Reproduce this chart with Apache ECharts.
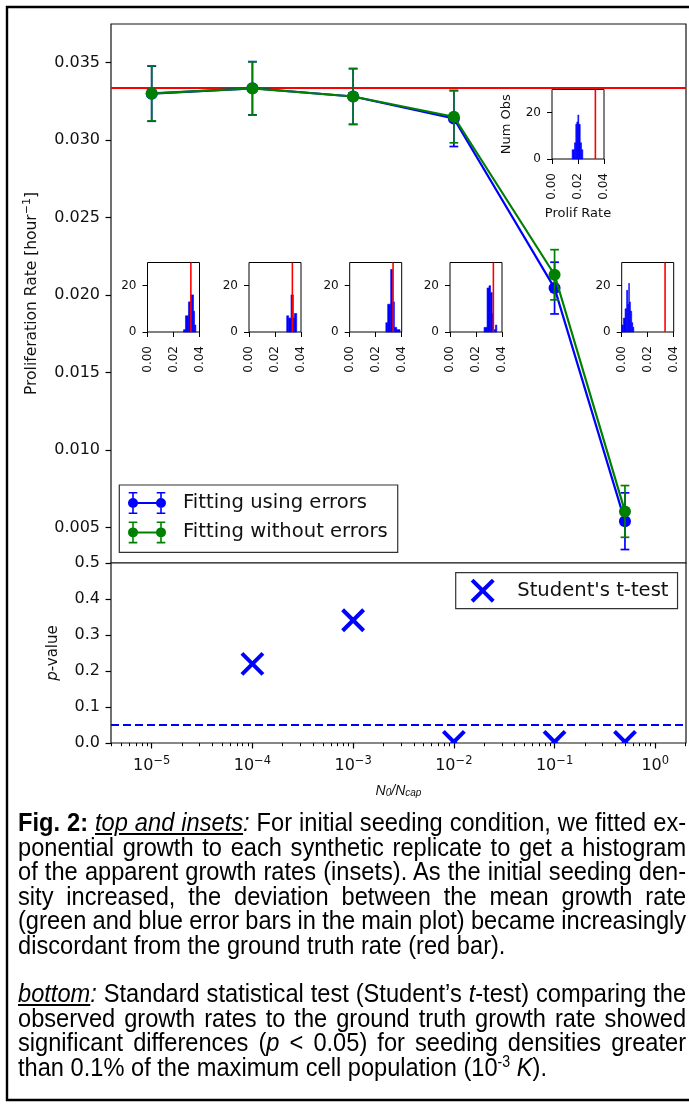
<!DOCTYPE html>
<html>
<head>
<meta charset="utf-8">
<script src="https://cdn.jsdelivr.net/npm/echarts@6/dist/echarts.min.js"></script>
<style>
html,body{margin:0;padding:0;background:#fff;}
#chart{position:absolute;left:0;top:0;width:689px;height:1105px;}
#cap{position:absolute;left:18px;top:810px;width:749px;transform:scaleX(0.892);transform-origin:0 0;font-family:'Liberation Sans',Arial,sans-serif;font-size:26.5px;line-height:24.6px;color:#000;}
#cap div{height:24.6px;white-space:nowrap;}
#cap .j{text-align:justify;text-align-last:justify;word-spacing:-4px;}
#cap .gap{height:23.5px;}
#cap sup{font-size:60%;line-height:0;vertical-align:0.55em;}
</style>
</head>
<body>
<div id="chart"></div>
<div id="cap">
<div class="j"><b>Fig. 2:</b> <i><u>top and insets</u>:</i> For initial seeding condition, we fitted ex-</div>
<div class="j">ponential growth to each synthetic replicate to get a histogram</div>
<div class="j">of the apparent growth rates (insets). As the initial seeding den-</div>
<div class="j">sity increased, the deviation between the mean growth rate</div>
<div class="j">(green and blue error bars in the main plot) became increasingly</div>
<div>discordant from the ground truth rate (red bar).</div>
<div class="gap"></div>
<div class="j"><i><u>bottom</u>:</i> Standard statistical test (Student’s <i>t</i>-test) comparing the</div>
<div class="j">observed growth rates to the ground truth growth rate showed</div>
<div class="j">significant differences (<i>p</i> &lt; 0.05) for seeding densities greater</div>
<div>than 0.1% of the maximum cell population (10<sup>-3</sup> <i>K</i>).</div>
</div>
<script>
// ---------------- data ----------------
const seedDensity = [1e-5, 1e-4, 1e-3, 1e-2, 1e-1, 0.5];
const usingErrorsMean = [0.03300, 0.03335, 0.03282, 0.03140, 0.02045, 0.00540];
const usingErrorsSd   = [0.00178, 0.00172, 0.00180, 0.00181, 0.00167, 0.00183];
const noErrorsMean    = [0.03302, 0.03334, 0.03282, 0.03151, 0.02131, 0.00603];
const noErrorsSd      = [0.00178, 0.00172, 0.00180, 0.00168, 0.00162, 0.00167];
const groundTruthRate = 0.03336;

const pDensity = [1e-4, 1e-3, 1e-2, 1e-1, 0.5];
const pValues  = [0.22, 0.341, 0.003, 0.003, 0.003];
const pThreshold = 0.05;

const xMajorTicks = [1e-5, 1e-4, 1e-3, 1e-2, 1e-1, 1];
const yMainTicks = [0.005, 0.010, 0.015, 0.020, 0.025, 0.030, 0.035];
const yPTicks = [0, 0.1, 0.2, 0.3, 0.4, 0.5];
const insetXTicks = [0, 0.02, 0.04];
const insetYTicks = [0, 20];

// inset histograms (bin edges, counts)
const hist1Edges = [0.0277, 0.0292, 0.0315, 0.0334, 0.0354, 0.0362, 0.0372];
const hist1Counts = [1, 7, 13, 16, 9, 3];
const hist2Edges = [0.0290, 0.0305, 0.0323, 0.0341, 0.0349, 0.0367];
const hist2Counts = [7, 6, 16, 6, 8];
const hist3Edges = [0.0278, 0.0292, 0.0315, 0.0329, 0.0344, 0.0362, 0.0387];
const hist3Counts = [4, 12, 27, 13, 2, 1];
const hist4Edges = [0.0262, 0.0285, 0.0300, 0.0312, 0.0325, 0.0334, 0.0343, 0.0350, 0.0360];
const hist4Counts = [2, 19, 20, 17, 8, 1, 1, 3];
const hist5Edges = [0.0155, 0.0173, 0.0183, 0.0191, 0.0199, 0.0206, 0.0217, 0.0227, 0.0237];
const hist5Counts = [4, 7, 15, 16, 19, 15, 7, 4];
const hist6Edges = [0.0000, 0.0013, 0.0026, 0.0038, 0.0046, 0.0054, 0.0059, 0.0067, 0.0077, 0.0085, 0.0093];
const hist6Counts = [3, 6, 10, 18, 12, 21, 13, 9, 4, 2];

// minor log ticks (axis decoration)
const xMinorTicks = [];
for (let k = -6; k <= 0; k++) for (let m = 2; m <= 9; m++) xMinorTicks.push(m * Math.pow(10, k));

// ---------------- layout ----------------
const X_MIN = Math.pow(10, -5.404), X_MAX = Math.pow(10, 0.305);
const FONT = 'DejaVu Sans';
const BLUE = '#0000ff', GREEN = '#008000', RED = '#ff0000';
const insetBoxes = [
  {left: 147.5, top: 262.5}, {left: 249, top: 262.5}, {left: 349.7, top: 262.5},
  {left: 450, top: 262.5}, {left: 552, top: 89.5}, {left: 621.7, top: 262.5}
];
const histEdges = [hist1Edges, hist2Edges, hist3Edges, hist4Edges, hist5Edges, hist6Edges];
const histCounts = [hist1Counts, hist2Counts, hist3Counts, hist4Counts, hist5Counts, hist6Counts];

const ERR_ICON = 'path://M4.2,1 L5.8,1 L5.8,21 L4.2,21 Z M0.7,0 L9.3,0 L9.3,1.6 L0.7,1.6 Z M0.7,20.4 L9.3,20.4 L9.3,22 L0.7,22 Z ' +
  'M32.2,1 L33.8,1 L33.8,21 L32.2,21 Z M28.7,0 L37.3,0 L37.3,1.6 L28.7,1.6 Z M28.7,20.4 L37.3,20.4 L37.3,22 L28.7,22 Z ' +
  'M5,10 L33,10 L33,12 L5,12 Z M0,11 A5,5 0 1 1 10,11 A5,5 0 1 1 0,11 Z M28,11 A5,5 0 1 1 38,11 A5,5 0 1 1 28,11 Z';
const X_ICON = 'path://M0,2.83 L2.83,0 L12,9.17 L21.17,0 L24,2.83 L14.83,12 L24,21.17 L21.17,24 L12,14.83 L2.83,24 L0,21.17 L9.17,12 Z';

function errRows(mean, sd) { return seedDensity.map((x, i) => [x, mean[i] - sd[i], mean[i] + sd[i]]); }
function errRender(color) {
  return function (params, api) {
    const x = api.value(0);
    const a = api.coord([x, api.value(1)]);
    const b = api.coord([x, api.value(2)]);
    const hw = 4.4;
    const st = {stroke: color, lineWidth: 1.7};
    return {type: 'group', children: [
      {type: 'line', shape: {x1: a[0], y1: a[1], x2: b[0], y2: b[1]}, style: st},
      {type: 'line', shape: {x1: a[0] - hw, y1: a[1], x2: a[0] + hw, y2: a[1]}, style: st},
      {type: 'line', shape: {x1: b[0] - hw, y1: b[1], x2: b[0] + hw, y2: b[1]}, style: st}
    ]};
  };
}
function histRender(params, api) {
  const p0 = api.coord([api.value(0), api.value(2)]);
  const p1 = api.coord([api.value(1), 0]);
  return {type: 'rect', shape: {x: p0[0], y: p0[1], width: p1[0] - p0[0], height: p1[1] - p0[1]},
    style: {fill: BLUE, stroke: BLUE, lineWidth: 0.6}};
}
function xMarkRender(params, api) {
  const c = api.coord([api.value(0), api.value(1)]);
  const h = 10.5;
  const st = {stroke: BLUE, lineWidth: 4};
  return {type: 'group', children: [
    {type: 'line', shape: {x1: c[0] - h, y1: c[1] - h, x2: c[0] + h, y2: c[1] + h}, style: st},
    {type: 'line', shape: {x1: c[0] - h, y1: c[1] + h, x2: c[0] + h, y2: c[1] - h}, style: st}
  ]};
}
function truthRender(params, api) {
  const a = api.coord([api.value(0), api.value(1)]);
  const r = params.coordSys;
  return {type: 'line', shape: {x1: r.x, y1: a[1], x2: r.x + r.width, y2: a[1]}, style: {stroke: RED, lineWidth: 2}};
}
function vTruthRender(params, api) {
  const a = api.coord([api.value(0), api.value(1)]);
  const r = params.coordSys;
  return {type: 'line', shape: {x1: a[0], y1: r.y, x2: a[0], y2: r.y + r.height}, style: {stroke: RED, lineWidth: 1.6}};
}
function sup10(v) {
  const e = Math.round(Math.log10(v));
  if (Math.abs(Math.log10(v) - e) > 1e-6) return '';
  return '10{s|' + (e < 0 ? '\u2212' + (-e) : e) + '}';
}

const gridStyle = {show: true, backgroundColor: '#fff', borderColor: '#111', borderWidth: 1.2, containLabel: false};
const grids = [
  Object.assign({left: 111, top: 24, width: 575, height: 539}, gridStyle),
  Object.assign({left: 111, top: 563, width: 575, height: 180}, gridStyle)
];
insetBoxes.forEach(b => grids.push(Object.assign({left: b.left, top: b.top, width: 52, height: 69.5}, gridStyle, {borderColor: '#000', borderWidth: 1})));

const tickStyle = {color: '#000', width: 1.2};
const xAxes = [
  {gridIndex: 0, type: 'log', position: 'bottom', min: X_MIN, max: X_MAX, axisLine: {show: false}, axisTick: {show: false}, axisLabel: {show: false}, splitLine: {show: false}},
  {gridIndex: 1, type: 'log', position: 'bottom', min: X_MIN, max: X_MAX, axisLine: {show: false}, splitLine: {show: false},
   axisTick: {show: true, customValues: xMajorTicks, length: 5.5, lineStyle: tickStyle},
   axisLabel: {show: true, customValues: xMajorTicks, formatter: sup10, margin: 12, fontFamily: FONT, fontSize: 16, color: '#111', lineHeight: 22,
     rich: {s: {fontFamily: FONT, fontSize: 11.5, lineHeight: 12, verticalAlign: 'top', color: '#111'}}},
   name: 'N{sub|0}/N{sub|cap}', nameLocation: 'middle', nameGap: 41,
   nameTextStyle: {fontFamily: 'Liberation Sans', fontStyle: 'italic', fontSize: 14, color: '#111',
     rich: {sub: {fontFamily: 'Liberation Sans', fontStyle: 'italic', fontSize: 10, verticalAlign: 'bottom', lineHeight: 10, color: '#111'}}}},
  {gridIndex: 1, type: 'log', position: 'bottom', min: X_MIN, max: X_MAX, axisLine: {show: false}, splitLine: {show: false}, axisLabel: {show: false},
   axisTick: {show: true, customValues: xMinorTicks, length: 3.2, lineStyle: {color: '#000', width: 1}}}
];
const yAxes = [
  {gridIndex: 0, type: 'value', min: 0.0027, max: 0.0375, axisLine: {show: false}, splitLine: {show: false},
   axisTick: {show: true, customValues: yMainTicks, length: 5.5, lineStyle: tickStyle},
   axisLabel: {customValues: yMainTicks, formatter: v => v.toFixed(3), margin: 11, fontFamily: FONT, fontSize: 16, color: '#111'},
   name: 'Proliferation Rate [hour{s|\u22121}]', nameLocation: 'middle', nameGap: 66, nameRotate: 90,
   nameTextStyle: {fontFamily: FONT, fontSize: 15.5, color: '#111', lineHeight: 22,
     rich: {s: {fontFamily: FONT, fontSize: 11, lineHeight: 12, verticalAlign: 'top', color: '#111'}}}},
  {gridIndex: 1, type: 'value', min: 0, max: 0.5, axisLine: {show: false}, splitLine: {show: false},
   axisTick: {show: true, customValues: yPTicks, length: 5.5, lineStyle: tickStyle},
   axisLabel: {customValues: yPTicks, formatter: v => v.toFixed(1), margin: 11, fontFamily: FONT, fontSize: 16, color: '#111'},
   name: '{i|p}-value', nameLocation: 'middle', nameGap: 50, nameRotate: 90,
   nameTextStyle: {fontFamily: FONT, fontSize: 15, color: '#111', rich: {i: {fontFamily: FONT, fontStyle: 'italic', fontSize: 15, color: '#111'}}}}
];
const series = [
  {type: 'custom', name: 'truth', xAxisIndex: 0, yAxisIndex: 0, z: 1, silent: true, renderItem: truthRender,
   encode: {x: 0, y: 1}, data: [[seedDensity[0], groundTruthRate]]},
  {type: 'custom', name: 'usingErrBars', xAxisIndex: 0, yAxisIndex: 0, z: 2, renderItem: errRender(BLUE),
   encode: {x: 0, y: [1, 2]}, data: errRows(usingErrorsMean, usingErrorsSd)},
  {type: 'line', name: 'Fitting using errors', xAxisIndex: 0, yAxisIndex: 0, z: 3,
   data: seedDensity.map((x, i) => [x, usingErrorsMean[i]]), symbol: 'circle', symbolSize: 12,
   itemStyle: {color: BLUE, borderWidth: 0}, lineStyle: {color: BLUE, width: 2.2}},
  {type: 'custom', name: 'noErrBars', xAxisIndex: 0, yAxisIndex: 0, z: 4, renderItem: errRender(GREEN),
   encode: {x: 0, y: [1, 2]}, data: errRows(noErrorsMean, noErrorsSd)},
  {type: 'line', name: 'Fitting without errors', xAxisIndex: 0, yAxisIndex: 0, z: 5,
   data: seedDensity.map((x, i) => [x, noErrorsMean[i]]), symbol: 'circle', symbolSize: 12,
   itemStyle: {color: GREEN, borderWidth: 0}, lineStyle: {color: GREEN, width: 2.2}},
  {type: 'custom', name: 'threshold', xAxisIndex: 1, yAxisIndex: 1, z: 2, silent: true,
   renderItem: function (params, api) {
     const a = api.coord([api.value(0), api.value(1)]);
     const r = params.coordSys;
     return {type: 'line', shape: {x1: r.x, y1: a[1], x2: r.x + r.width, y2: a[1]}, style: {stroke: BLUE, lineWidth: 2, lineDash: [8, 4]}};
   },
   encode: {x: 0, y: 1}, data: [[pDensity[0], pThreshold]]},
  {type: 'custom', name: "Student's t-test", xAxisIndex: 1, yAxisIndex: 1, z: 3, clip: true, renderItem: xMarkRender,
   itemStyle: {color: BLUE}, encode: {x: 0, y: 1},
   data: pDensity.map((x, i) => [x, pValues[i]])}
];

insetBoxes.forEach((b, k) => {
  const gi = k + 2;
  const xi = k + 3;
  const isLabeled = (k === 4);
  xAxes.push({gridIndex: gi, type: 'value', position: 'bottom', min: 0, max: 0.04, axisLine: {show: false}, splitLine: {show: false},
    axisTick: {show: true, customValues: insetXTicks, length: 5, lineStyle: {color: '#000', width: 1}},
    axisLabel: {customValues: insetXTicks, rotate: 90, formatter: v => v.toFixed(2), margin: 14, fontFamily: FONT, fontSize: 12, color: '#111'},
    name: isLabeled ? 'Prolif Rate' : '', nameLocation: 'middle', nameGap: 48,
    nameTextStyle: {fontFamily: FONT, fontSize: 13, color: '#111'}});
  yAxes.push({gridIndex: gi, type: 'value', min: 0, max: 30, axisLine: {show: false}, splitLine: {show: false},
    axisTick: {show: true, customValues: insetYTicks, length: 5, lineStyle: {color: '#000', width: 1}},
    axisLabel: {customValues: insetYTicks, margin: 11, fontFamily: FONT, fontSize: 12, color: '#111'},
    name: isLabeled ? 'Num Obs' : '', nameLocation: 'middle', nameGap: 39, nameRotate: 90,
    nameTextStyle: {fontFamily: FONT, fontSize: 13, color: '#111'}});
  const edges = histEdges[k], counts = histCounts[k];
  series.push({type: 'custom', name: 'hist' + (k + 1), xAxisIndex: xi, yAxisIndex: gi, z: 6, renderItem: histRender,
    encode: {x: [0, 1], y: 2}, data: counts.map((c, i) => [edges[i], edges[i + 1], c])});
  series.push({type: 'custom', name: 'histTruth' + (k + 1), xAxisIndex: xi, yAxisIndex: gi, z: 7, silent: true, renderItem: vTruthRender,
    encode: {x: 0, y: 1}, data: [[groundTruthRate, 0]]});
});

const option = {
  animation: false,
  backgroundColor: '#fff',
  grid: grids,
  xAxis: xAxes,
  yAxis: yAxes,
  legend: [
    {orient: 'vertical', left: 119.3, top: 485, padding: [7, 10, 9, 8.7], itemGap: 7.4, itemWidth: 38, itemHeight: 22,
     borderColor: '#333', borderWidth: 1.2, backgroundColor: '#fff', selectedMode: false, symbolKeepAspect: true,
     itemStyle: {borderWidth: 0},
     textStyle: {fontFamily: FONT, fontSize: 19.6, color: '#111', padding: [0, 0, 0, 12]},
     data: [{name: 'Fitting using errors', icon: ERR_ICON}, {name: 'Fitting without errors', icon: ERR_ICON}]},
    {orient: 'vertical', left: 455.7, top: 572.7, padding: [6, 9, 6, 15], itemWidth: 25, itemHeight: 24,
     borderColor: '#333', borderWidth: 1.2, backgroundColor: '#fff', selectedMode: false,
     itemStyle: {borderWidth: 0},
     textStyle: {fontFamily: FONT, fontSize: 19.6, color: '#111', padding: [0, 0, 0, 17]},
     data: [{name: "Student's t-test", icon: X_ICON}]}
  ],
  graphic: [
    {type: 'rect', silent: true, z: 100, shape: {x: 7, y: 7, width: 700, height: 1093}, style: {fill: 'none', stroke: '#000', lineWidth: 2.4}}
  ],
  series: series
};

const chart = echarts.init(document.getElementById('chart'), null, {renderer: 'canvas'});
chart.setOption(option);
</script>
</body>
</html>
